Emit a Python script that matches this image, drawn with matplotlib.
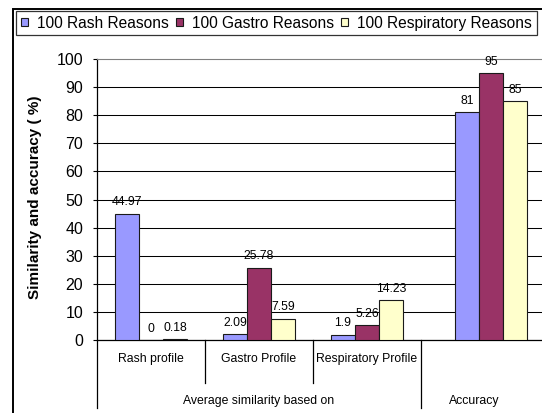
import matplotlib

matplotlib.use("Agg")
import matplotlib.pyplot as plt
from matplotlib.patches import Patch, Rectangle
import numpy as np

plt.rcParams["font.family"] = ["Liberation Sans", "DejaVu Sans"]

# categories on the x axis (inner level) and their outer grouping
categories = ["Rash profile", "Gastro Profile", "Respiratory Profile", "Accuracy"]
inner_labels = ["Rash profile", "Gastro Profile", "Respiratory Profile"]
outer_labels = ["Average similarity based on", "Accuracy"]

series_names = ["100 Rash Reasons", "100 Gastro Reasons", "100 Respiratory Reasons"]
rash_reasons = [44.97, 2.09, 1.9, 81]
gastro_reasons = [0, 25.78, 5.26, 95]
respiratory_reasons = [0.18, 7.59, 14.23, 85]

y_ticks = [0, 10, 20, 30, 40, 50, 60, 70, 80, 90, 100]

colors = ["#9999FF", "#993366", "#FFFFCC"]

W, H = 542, 413
fig = plt.figure(figsize=(W / 100, H / 100), dpi=100)

# plot area runs past the right edge of the canvas
ax_left, ax_bottom, ax_top, ax_right = 97, 340, 59, 560
cat_px = 108
ax = fig.add_axes([ax_left / W, (H - ax_bottom) / H,
                   (ax_right - ax_left) / W, (ax_bottom - ax_top) / H])

group_x = np.array([0.5, 1.5, 2.5, 3.65])
bar_w = 24 / cat_px
all_series = [rash_reasons, gastro_reasons, respiratory_reasons]

for i, (vals, col) in enumerate(zip(all_series, colors)):
    xs = group_x + (i - 1) * bar_w
    ax.bar(xs, vals, width=bar_w, color=col, edgecolor="#1a1a1a",
           linewidth=0.8, zorder=3)
    for x, v in zip(xs, vals):
        ax.annotate(f"{v:g}", (x, v), xytext=(0, 6), textcoords="offset points",
                    ha="center", va="baseline", fontsize=8.8, zorder=4)

ax.set_xlim(0, (ax_right - ax_left) / cat_px)
ax.set_ylim(0, 100)
ax.set_yticks(y_ticks)
ax.tick_params(axis="y", labelsize=11.5, length=3, width=0.8, pad=7, direction="out")
ax.set_xticks([])
ax.set_axisbelow(True)
ax.yaxis.grid(True, color="black", linewidth=0.75)
ax.get_ygridlines()[-1].set_visible(False)

for side in ("left", "bottom"):
    ax.spines[side].set_color("black")
    ax.spines[side].set_linewidth(0.9)
ax.spines["top"].set_color("#808080")
ax.spines["top"].set_linewidth(0.8)
ax.spines["right"].set_visible(False)

# multi-level category axis below the plot
trans = ax.get_xaxis_transform()
px_to_ax = 1 / (ax_bottom - ax_top)
inner_depth = -(383 - ax_bottom) * px_to_ax
outer_depth = -(408 - ax_bottom) * px_to_ax
for xb, depth in [(0, outer_depth), (1, inner_depth), (2, inner_depth), (3, outer_depth)]:
    ax.plot([xb, xb], [0, depth], transform=trans, color="black",
            linewidth=0.9, clip_on=False)
for j, lab in enumerate(inner_labels):
    ax.text(j + 0.5, -(359 - ax_bottom) * px_to_ax, lab, transform=trans,
            ha="center", va="center", fontsize=8.8)
ax.text(1.5, -(401 - ax_bottom) * px_to_ax, outer_labels[0], transform=trans,
        ha="center", va="center", fontsize=8.8)
ax.text(3.49, -(401 - ax_bottom) * px_to_ax, outer_labels[1], transform=trans,
        ha="center", va="center", fontsize=8.8)

fig.text(35 / W, 1 - 197.5 / H, "Similarity and accuracy ( %)", rotation=90,
         ha="center", va="center", fontsize=11, fontweight="bold")

# chart area border
fig.patches.append(Rectangle((13 / W, -0.1), 1.2, 1 - 9 / H + 0.1,
                             transform=fig.transFigure, fill=False,
                             edgecolor="black", linewidth=1.4))

handles = [Patch(facecolor=c, edgecolor="#1a1a1a", linewidth=0.8) for c in colors]
leg = fig.legend(handles, series_names, loc="upper left",
                 bbox_to_anchor=(16 / W, 1 - 11 / H), ncol=3, fontsize=11.2,
                 frameon=True, fancybox=False, edgecolor="black",
                 borderpad=0.3, handlelength=0.45, handleheight=0.45,
                 handletextpad=0.6, columnspacing=0.45, borderaxespad=0)
leg.get_frame().set_linewidth(0.9)

fig.savefig("out.png", dpi=100)
